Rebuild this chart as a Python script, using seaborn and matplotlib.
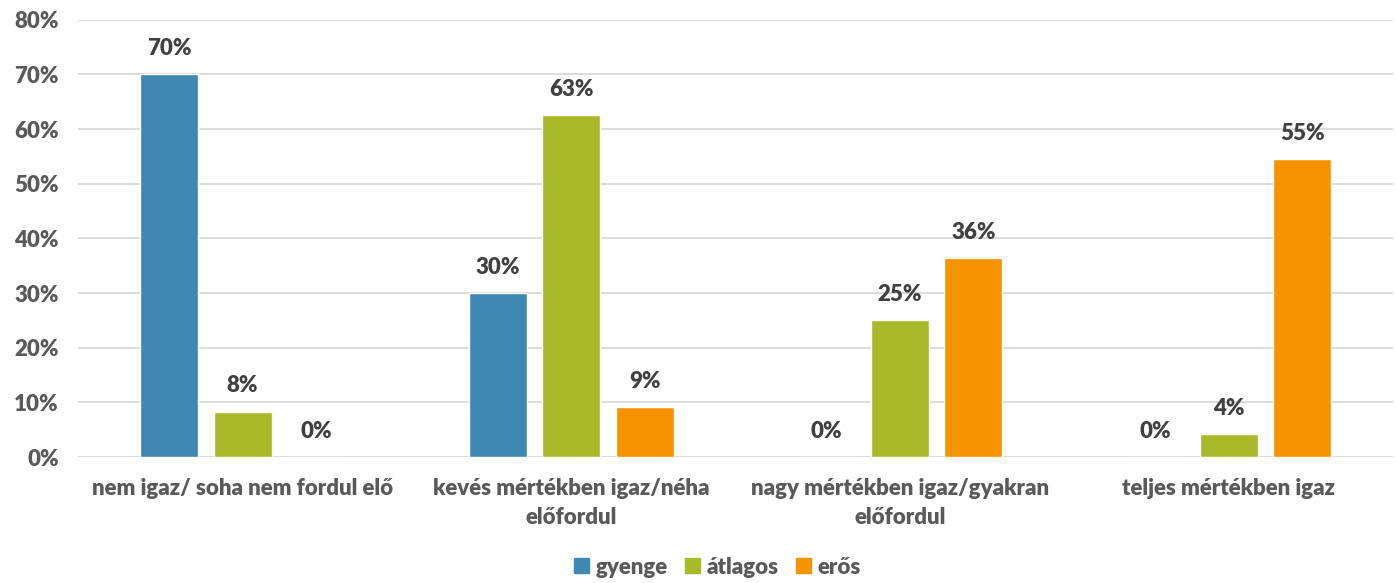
import matplotlib
matplotlib.use("Agg")
import matplotlib.pyplot as plt
import seaborn as sns
import pandas as pd
import numpy as np
from matplotlib.patches import Patch

categories = ["nem igaz/ soha nem fordul elő",
              "kevés mértékben igaz/néha\nelőfordul",
              "nagy mértékben igaz/gyakran\nelőfordul",
              "teljes mértékben igaz"]
series = ["gyenge", "átlagos", "erős"]
gyenge = [70, 30, 0, 0]
atlagos = [8.3, 62.5, 25, 4.2]
eros = [0, 9.1, 36.4, 54.5]
colors = ["#3F88B3", "#A8B92A", "#F59300"]

rows = []
for name, vals in zip(series, [gyenge, atlagos, eros]):
    for c, v in zip(categories, vals):
        rows.append({"kat": c, "sor": name, "ertek": v})
df = pd.DataFrame(rows)

sns.set_style("white")
plt.rcParams['font.family'] = ['Lato', 'DejaVu Sans']
plt.rcParams['font.weight'] = 'bold'

fig = plt.figure(figsize=(13.96, 5.83), dpi=100)
ax = fig.add_axes([0.056, 0.216, 0.942, 0.75])

sns.barplot(data=df, x="kat", y="ertek", hue="sor", order=categories,
            hue_order=series, palette=colors, width=0.67, gap=0.21,
            saturation=1, ax=ax, legend=False)

for cont in ax.containers:
    for bar in cont:
        h = bar.get_height()
        ax.annotate(f"{int(h + 0.5)}%", (bar.get_x() + bar.get_width() / 2, h),
                    xytext=(0, 11), textcoords="offset points",
                    ha="center", va="bottom", fontsize=16, fontweight="heavy",
                    color="#404040")

ax.set_ylim(0, 80)
ax.set_xlim(-0.5, 3.5)
ax.set_yticks(range(0, 81, 10))
ax.set_yticklabels([f"{t}%" for t in range(0, 81, 10)])
ax.yaxis.grid(True, color="#D9D9D9", linewidth=1.3)
ax.set_axisbelow(True)
for s in ax.spines.values():
    s.set_visible(False)
ax.tick_params(axis="both", length=0, labelsize=16, labelcolor="#595959")
ax.tick_params(axis="x", pad=15)
ax.tick_params(axis="y", pad=14)
for lab in ax.get_xticklabels() + ax.get_yticklabels():
    lab.set_fontweight("heavy")
    lab.set_linespacing(1.45)
ax.set_xlabel("")
ax.set_ylabel("")

handles = [Patch(color=c, label=s) for c, s in zip(colors, series)]
fig.legend(handles=handles, loc="lower center", ncol=3, frameon=False,
           bbox_to_anchor=(0.514, -0.025), handlelength=0.65, handleheight=0.65,
           handletextpad=0.3, columnspacing=0.8,
           prop={"size": 16, "weight": "heavy"}, labelcolor="#595959")

fig.savefig("out.png", dpi=100)
